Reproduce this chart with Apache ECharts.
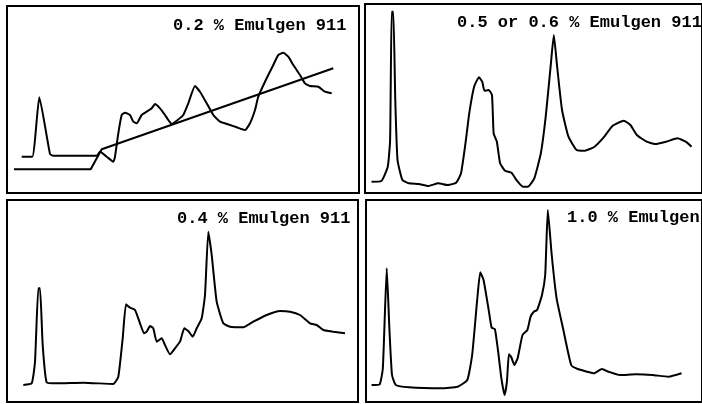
<!DOCTYPE html>
<html>
<head>
<meta charset="utf-8">
<script src="https://cdn.jsdelivr.net/npm/echarts@6/dist/echarts.min.js"></script>
<style>html,body{margin:0;padding:0;background:#fff;}#c{width:702px;height:404px;}</style>
</head>
<body>
<div id="c"></div>
<script>
// Panel labels
const panelLabels = ['0.2 % Emulgen 911', '0.5 or 0.6 % Emulgen 911', '0.4 % Emulgen 911', '1.0 % Emulgen'];

// Elution profiles: [elution position, absorbance] (relative units)
const emulgen02 = [[14.7,36.3],[25.3,36.3],[32.3,95.7],[43,39],[46.3,37.3],[89.7,37.3],[93,41.3],[99.7,36.3],[106.3,31.3],[108,36.3],[111.3,59.7],[114.7,78],[118,80.3],[123,78],[126.3,71.3],[129.7,69.7],[134.7,78],[139.7,81.3],[144.7,84.7],[148,89],[153,84.7],[158,78],[161.3,73],[164.7,69],[169.7,72.3],[176.3,78],[181.3,89.7],[188,107],[193,101.3],[199.7,89.7],[206.3,78],[213,71.3],[223,68],[229.7,65.7],[238,63],[243,69.7],[248,83],[251.3,96.3],[258,111.3],[266.3,128],[271.3,138],[276.3,140.3],[281.3,136.3],[286.3,128],[293,118],[298,109.7],[303,107],[311.3,106.3],[318,101.3],[324.7,99.7]];
const gradient02 = [[7,23.7],[83.7,23.7],[94.7,43.7],[326.3,124.7]];

const emulgen05 = [[6.7,11.3],[16.7,12],[23.3,26.3],[25.7,53],[27.3,181.3],[29,181.3],[31,93],[33.3,33],[38.3,13],[45,9.7],[55,9],[65,7],[75,9.7],[85,8],[93.3,10.3],[98.3,19.7],[103.3,53],[106.7,79.7],[111.7,106.3],[116.7,115.7],[120,111.3],[122.3,102.3],[126.7,103],[130,98],[131.7,59.7],[135,51.3],[138.3,29.7],[143.3,22.3],[150,20.3],[155,13],[161.7,6.3],[166.7,6.3],[173.3,14.7],[180,39.7],[185,76.3],[190,126.3],[193.3,158],[196.7,126.3],[201.7,83],[208.3,56.3],[216.7,43],[225,42.3],[235,46.3],[245,56.3],[253.3,67],[265,72.3],[271.7,68],[278.3,58],[288.3,51.3],[296.7,49],[308.3,51.3],[320,54.7],[328.3,51.3],[334.3,46.3]];

const emulgen04 = [[16.3,17],[24.7,18.7],[28,40.3],[31.3,113.7],[33,113.7],[35.7,57],[39.7,19.7],[49.7,18.7],[76.3,19.3],[106.3,18],[111.3,25.3],[115.7,63.7],[119,97.7],[123,94.3],[128,92],[133,78.7],[137,68.7],[139.7,70.3],[143,76],[146.3,73.7],[149.7,60.3],[154.7,63.7],[158,57],[163,47.7],[168,53.7],[173,60.3],[177.3,73.7],[181.3,71],[185.7,65.3],[189.7,73.7],[194.7,83.7],[198,107],[201.3,170.3],[204.7,147],[209.7,100.3],[216.3,78.7],[223,75.3],[236.3,74.7],[246.3,80.3],[259.7,87],[273,91],[283,90.3],[293,87],[303,78.7],[309.7,77],[316.3,72],[326.3,70.3],[338,68.7]];

const emulgen10 = [[5.7,17],[14,17.7],[17.3,33.7],[21.3,133.7],[24,73.7],[26.7,27],[30.7,17],[44,14.7],[77.3,13.7],[94,15.3],[104,22],[109,47],[114,100.3],[117.3,129.7],[120.7,122],[125.7,93.7],[129,74.3],[132.3,73],[135.7,50.3],[139,23.7],[142.3,7],[144.7,20.3],[146.7,47.7],[149,45.3],[152.3,37],[155.7,43.7],[160.7,67],[165.7,72],[169,85.3],[172.3,90.3],[175.7,92],[180.7,107],[184,127],[186.7,192],[190.7,147],[195.7,103.7],[202.3,73.7],[210.7,37],[217.3,33],[227.3,30.3],[234,28.7],[242.3,33],[249,30.3],[260.7,27],[277.3,27.7],[294,27],[310.7,25.3],[324,28.7]];

const chart = echarts.init(document.getElementById('c'), null, {renderer: 'canvas'});

const grids = [
  {left: 7, top: 6, width: 352, height: 187},
  {left: 365, top: 4, width: 345, height: 189},
  {left: 7, top: 200, width: 351, height: 202},
  {left: 366, top: 200, width: 345, height: 202}
];
const labelPos = [[173, 26], [457, 23], [177, 219], [567, 218]];

const lineStyle = {color: '#000', width: 2};
function ser(data, i) {
  return {type: 'line', data: data, xAxisIndex: i, yAxisIndex: i, showSymbol: false,
    symbol: 'none', lineStyle: lineStyle, silent: true, smooth: 0.15};
}

chart.setOption({
  animation: false,
  backgroundColor: '#fff',
  grid: grids.map(g => Object.assign({show: true, borderColor: '#000', borderWidth: 2, backgroundColor: 'transparent'}, g)),
  xAxis: grids.map((g, i) => ({type: 'value', gridIndex: i, min: 0, max: g.width, show: false})),
  yAxis: grids.map((g, i) => ({type: 'value', gridIndex: i, min: 0, max: g.height, show: false})),
  series: [
    ser(emulgen02, 0),
    Object.assign(ser(gradient02, 0), {smooth: false}),
    ser(emulgen05, 1),
    ser(emulgen04, 2),
    ser(emulgen10, 3)
  ],
  graphic: panelLabels.map((t, i) => ({
    type: 'text', x: labelPos[i][0], y: labelPos[i][1], z: 100,
    style: {text: t, fill: '#000', font: 'bold 17px "Liberation Mono", monospace', align: 'left', verticalAlign: 'middle'}
  }))
});
</script>
</body>
</html>
